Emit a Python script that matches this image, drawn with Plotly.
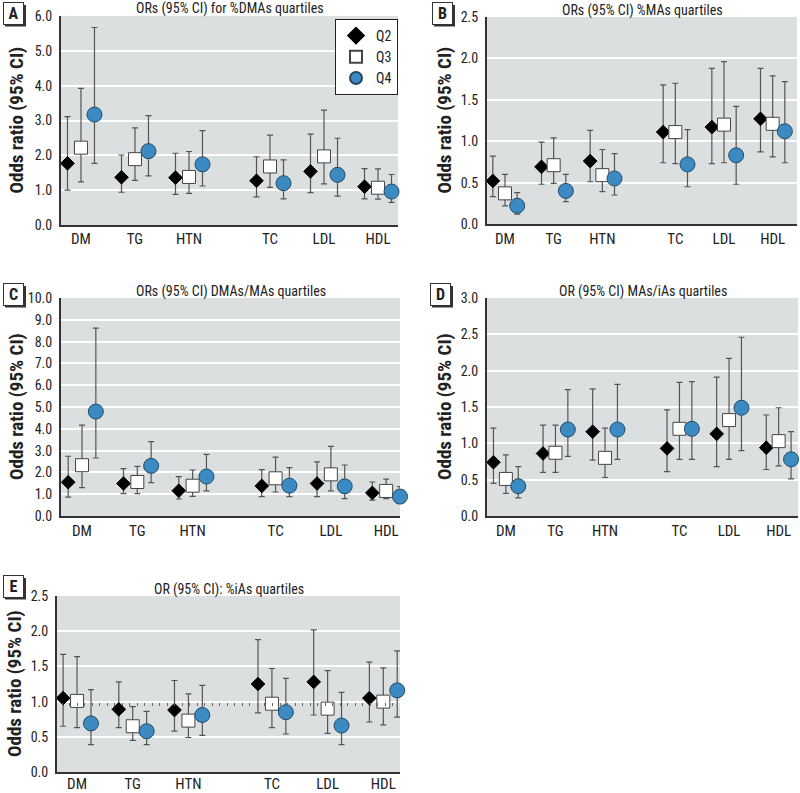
import plotly.graph_objects as go

CATEGORIES = ["DM", "TG", "HTN", "TC", "LDL", "HDL"]
QUARTILES = ["Q2", "Q3", "Q4"]

TITLES = {
    "A": "ORs (95% CI) for %DMAs quartiles",
    "B": "ORs (95% CI) %MAs quartiles",
    "C": "ORs (95% CI) DMAs/MAs quartiles",
    "D": "OR (95% CI) MAs/iAs quartiles",
    "E": "OR (95% CI): %iAs quartiles",
}
Y_TITLE = "Odds ratio (95% CI)"

# ---- Panel A: %DMAs quartiles ----
A_Q2_OR = [1.77, 1.37, 1.36, 1.27, 1.54, 1.10]
A_Q2_LO = [1.00, 0.94, 0.88, 0.81, 0.93, 0.75]
A_Q2_HI = [3.11, 2.01, 2.06, 1.96, 2.61, 1.62]
A_Q3_OR = [2.22, 1.89, 1.38, 1.68, 1.97, 1.07]
A_Q3_LO = [1.24, 1.28, 0.91, 1.08, 1.18, 0.74]
A_Q3_HI = [3.92, 2.79, 2.11, 2.58, 3.30, 1.61]
A_Q4_OR = [3.17, 2.12, 1.74, 1.20, 1.44, 0.96]
A_Q4_LO = [1.77, 1.41, 1.12, 0.75, 0.83, 0.65]
A_Q4_HI = [5.67, 3.14, 2.71, 1.87, 2.49, 1.45]

# ---- Panel B: %MAs quartiles ----
B_Q2_OR = [0.52, 0.69, 0.76, 1.11, 1.17, 1.27]
B_Q2_LO = [0.33, 0.48, 0.51, 0.74, 0.73, 0.87]
B_Q2_HI = [0.82, 0.99, 1.13, 1.68, 1.88, 1.88]
B_Q3_OR = [0.37, 0.71, 0.59, 1.11, 1.20, 1.21]
B_Q3_LO = [0.22, 0.49, 0.39, 0.73, 0.74, 0.81]
B_Q3_HI = [0.60, 1.04, 0.90, 1.70, 1.96, 1.79]
B_Q4_OR = [0.22, 0.40, 0.55, 0.72, 0.83, 1.12]
B_Q4_LO = [0.12, 0.27, 0.35, 0.45, 0.48, 0.74]
B_Q4_HI = [0.38, 0.60, 0.85, 1.14, 1.42, 1.72]

# ---- Panel C: DMAs/MAs quartiles ----
C_Q2_OR = [1.55, 1.49, 1.16, 1.38, 1.49, 1.06]
C_Q2_LO = [0.87, 1.03, 0.78, 0.89, 0.89, 0.73]
C_Q2_HI = [2.74, 2.17, 1.81, 2.13, 2.48, 1.56]
C_Q3_OR = [2.33, 1.56, 1.39, 1.73, 1.91, 1.15]
C_Q3_LO = [1.30, 1.03, 0.90, 1.10, 1.15, 0.80]
C_Q3_HI = [4.17, 2.28, 2.11, 2.70, 3.19, 1.69]
C_Q4_OR = [4.79, 2.30, 1.81, 1.39, 1.36, 0.89]
C_Q4_LO = [2.66, 1.53, 1.15, 0.89, 0.80, 0.58]
C_Q4_HI = [8.62, 3.41, 2.83, 2.22, 2.34, 1.35]

# ---- Panel D: MAs/iAs quartiles ----
D_Q2_OR = [0.74, 0.86, 1.16, 0.93, 1.13, 0.94]
D_Q2_LO = [0.45, 0.60, 0.77, 0.61, 0.68, 0.64]
D_Q2_HI = [1.21, 1.25, 1.75, 1.46, 1.91, 1.39]
D_Q3_OR = [0.51, 0.87, 0.80, 1.20, 1.32, 1.03]
D_Q3_LO = [0.31, 0.60, 0.53, 0.78, 0.78, 0.69]
D_Q3_HI = [0.84, 1.25, 1.21, 1.84, 2.17, 1.49]
D_Q4_OR = [0.41, 1.19, 1.19, 1.20, 1.49, 0.78]
D_Q4_LO = [0.25, 0.82, 0.78, 0.78, 0.90, 0.51]
D_Q4_HI = [0.68, 1.74, 1.81, 1.85, 2.46, 1.16]

# ---- Panel E: %iAs quartiles ----
E_Q2_OR = [1.05, 0.89, 0.88, 1.25, 1.28, 1.05]
E_Q2_LO = [0.65, 0.63, 0.58, 0.84, 0.81, 0.71]
E_Q2_HI = [1.67, 1.28, 1.30, 1.88, 2.02, 1.56]
E_Q3_OR = [1.01, 0.65, 0.73, 0.97, 0.90, 1.00]
E_Q3_LO = [0.63, 0.45, 0.49, 0.63, 0.55, 0.67]
E_Q3_HI = [1.64, 0.93, 1.11, 1.47, 1.44, 1.48]
E_Q4_OR = [0.69, 0.58, 0.81, 0.85, 0.66, 1.16]
E_Q4_LO = [0.39, 0.39, 0.52, 0.54, 0.39, 0.78]
E_Q4_HI = [1.17, 0.86, 1.23, 1.33, 1.13, 1.72]

PANELS = {
    "A": [(A_Q2_OR, A_Q2_LO, A_Q2_HI), (A_Q3_OR, A_Q3_LO, A_Q3_HI), (A_Q4_OR, A_Q4_LO, A_Q4_HI)],
    "B": [(B_Q2_OR, B_Q2_LO, B_Q2_HI), (B_Q3_OR, B_Q3_LO, B_Q3_HI), (B_Q4_OR, B_Q4_LO, B_Q4_HI)],
    "C": [(C_Q2_OR, C_Q2_LO, C_Q2_HI), (C_Q3_OR, C_Q3_LO, C_Q3_HI), (C_Q4_OR, C_Q4_LO, C_Q4_HI)],
    "D": [(D_Q2_OR, D_Q2_LO, D_Q2_HI), (D_Q3_OR, D_Q3_LO, D_Q3_HI), (D_Q4_OR, D_Q4_LO, D_Q4_HI)],
    "E": [(E_Q2_OR, E_Q2_LO, E_Q2_HI), (E_Q3_OR, E_Q3_LO, E_Q3_HI), (E_Q4_OR, E_Q4_LO, E_Q4_HI)],
}
Y_MAX = {"A": 6.0, "B": 2.5, "C": 10.0, "D": 3.0, "E": 2.5}
Y_DTICK = {"A": 1.0, "B": 0.5, "C": 1.0, "D": 0.5, "E": 0.5}

# ---------------- layout / styling ----------------
W, H = 800, 793
FONT = "Liberation Sans Narrow, Roboto Condensed, DejaVu Sans Condensed, Arial Narrow, sans-serif"
BG = "#dcdfe0"
ERR_COL = "#555555"

# pixel boxes for each panel: left, right, top, bottom
BOX = {
    "A": (61, 398, 16, 225),
    "B": (487, 797, 17, 224),
    "C": (61, 400, 298, 516),
    "D": (487, 798, 298, 516),
    "E": (57, 400, 596, 772),
}
XRANGE = {
    "A": [-0.37, 5.87],
    "B": [-0.37, 6.0],
    "C": [-0.38, 5.75],
    "D": [-0.38, 5.89],
    "E": [-0.36, 5.8],
}
XLABEL_STANDOFF = {"A": -1, "B": 0, "C": 0, "D": 0, "E": -3}
LABEL_POS = {"A": (13, 13), "B": (442, 13), "C": (13, 294), "D": (440, 294), "E": (13, 586)}
YTITLE_X = {"A": 16, "B": 444, "C": 16, "D": 444, "E": 14}

MARKERS = [
    dict(symbol="diamond", size=10.5, color="black", line=dict(color="black", width=1)),
    dict(symbol="square", size=13, color="white", line=dict(color="#444444", width=1)),
    dict(symbol="circle", size=15, color="#3b8ac1", line=dict(color="#234a66", width=1)),
]
OFFSETS = [-0.25, 0.0, 0.25]

group_pos = [i + (0.5 if i >= 3 else 0.0) for i in range(len(CATEGORIES))]

fig = go.Figure()
layout = dict(
    width=W, height=H, autosize=False,
    margin=dict(l=0, r=0, t=0, b=0, pad=0, autoexpand=False),
    paper_bgcolor="white",
    plot_bgcolor=BG,
    font=dict(family=FONT, size=14, color="#222222"),
    showlegend=True,
    legend=dict(
        x=335 / W, y=1 - 19 / H, xanchor="left", yanchor="top",
        bgcolor="white", bordercolor="#222222", borderwidth=1,
        font=dict(family=FONT, size=14, color="#222222"),
        itemwidth=30, tracegroupgap=0, itemsizing="constant",
    ),
    annotations=[],
    shapes=[],
)

def px_x(v):
    return v / W

def px_y(v):
    return 1 - v / H

for idx, key in enumerate(["A", "B", "C", "D", "E"], start=1):
    sfx = "" if idx == 1 else str(idx)
    xa, ya = "x" + sfx, "y" + sfx
    l, r, t, b = BOX[key]
    layout["xaxis" + sfx] = dict(
        domain=[px_x(l), px_x(r)], anchor=ya, range=XRANGE[key],
        tickvals=group_pos, ticktext=CATEGORIES,
        showgrid=False, zeroline=False,
        showline=True, linecolor="#333333", linewidth=2,
        ticks="", ticklabelstandoff=XLABEL_STANDOFF[key],
        tickfont=dict(family=FONT, size=15, color="#222222"),
        fixedrange=True, automargin=False,
    )
    layout["yaxis" + sfx] = dict(
        domain=[px_y(b), px_y(t)], anchor=xa, range=[0, Y_MAX[key]],
        dtick=Y_DTICK[key], tick0=0, tickformat=".1f",
        showgrid=True, gridcolor="white", gridwidth=1.5,
        zeroline=False,
        showline=True, linecolor="#333333", linewidth=2,
        ticks="outside", ticklen=4, tickcolor="rgba(0,0,0,0)",
        tickfont=dict(family=FONT, size=14, color="#222222"),
        fixedrange=True, automargin=False,
    )
    # reference line at OR = 1
    layout["shapes"].append(dict(
        type="line", xref=xa + " domain", x0=0, x1=1, yref=ya, y0=1, y1=1,
        line=dict(color="#555555", width=1.3), layer="below",
    ))
    for qi, (q, (orv, lo, hi)) in enumerate(zip(QUARTILES, PANELS[key])):
        fig.add_trace(go.Scatter(
            x=[p + OFFSETS[qi] for p in group_pos], y=orv,
            mode="markers", name=q, legendgroup=q, showlegend=(key == "A"),
            marker=MARKERS[qi],
            error_y=dict(type="data", symmetric=False,
                         array=[h - o for h, o in zip(hi, orv)],
                         arrayminus=[o - lw for o, lw in zip(orv, lo)],
                         color=ERR_COL, thickness=1.2, width=3),
            xaxis=xa, yaxis=ya, cliponaxis=False,
        ))
    # panel title
    layout["annotations"].append(dict(
        text=TITLES[key], xref="paper", yref="paper",
        x=px_x((l + r) / 2), y=px_y(t - 7), xanchor="center", yanchor="middle",
        showarrow=False, font=dict(family=FONT, size=14, color="#222222"),
    ))
    # y-axis title
    layout["annotations"].append(dict(
        text="<b>" + Y_TITLE + "</b>", xref="paper", yref="paper",
        x=px_x(YTITLE_X[key]), y=px_y((t + b) / 2), xanchor="center", yanchor="middle",
        textangle=-90, showarrow=False,
        font=dict(family=FONT, size=19, color="#222222"),
    ))
    # panel letter box: drop shadow (shape) + white labelled box
    lx, ly = LABEL_POS[key]
    layout["shapes"].append(dict(
        type="rect", xref="paper", yref="paper",
        x0=px_x(lx - 8), x1=px_x(lx + 13), y0=px_y(ly + 13.5), y1=px_y(ly - 8),
        fillcolor="#333333", line=dict(width=0), layer="above",
    ))
    layout["annotations"].append(dict(
        text="<b>" + key + "</b>", xref="paper", yref="paper",
        x=px_x(lx), y=px_y(ly), xanchor="center", yanchor="middle",
        showarrow=False,
        width=17, height=19, bgcolor="white", bordercolor="#333333", borderwidth=1,
        font=dict(family=FONT, size=16, color="#222222"),
    ))

# minor tick marks along the OR = 1 line of panel E
lE, rE, tE, bE = BOX["E"]
yE0, yE1 = px_y(bE), px_y(tE)
layout["xaxis6"] = dict(
    overlaying="x5", anchor="free", side="bottom",
    position=yE0 + (1.0 / Y_MAX["E"]) * (yE1 - yE0),
    range=XRANGE["E"], showgrid=False, zeroline=False, showline=False,
    ticks="outside", ticklen=3, tickwidth=1, tickcolor="#666666",
    tick0=0.0, dtick=0.135, showticklabels=False, fixedrange=True,
)
fig.add_trace(go.Scatter(x=[None], y=[None], xaxis="x6", yaxis="y5",
                         showlegend=False, hoverinfo="skip", mode="markers"))

fig.update_layout(**layout)
fig.write_html(
    "out.html",
    config={"responsive": False, "displayModeBar": False},
    post_script="document.body.style.margin='0';document.body.style.overflow='hidden';",
)
